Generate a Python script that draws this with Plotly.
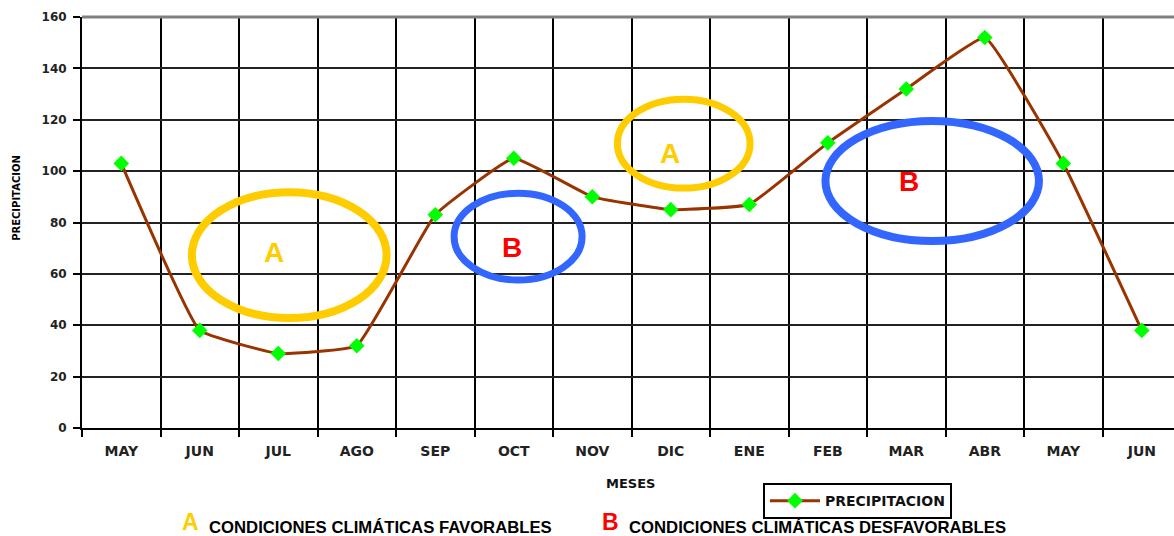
import plotly.graph_objects as go

months = ["MAY", "JUN", "JUL", "AGO", "SEP", "OCT", "NOV", "DIC",
          "ENE", "FEB", "MAR", "ABR", "MAY", "JUN"]
precip = [103, 38, 29, 32, 83, 105, 90, 85, 87, 111, 132, 152, 103, 38]
y_ticks = [0, 20, 40, 60, 80, 100, 120, 140, 160]

x_idx = list(range(len(months)))

# ellipses: (x0, x1, y0, y1, colour, width)
ellipses = [
    (0.90, 3.38, 42.8, 91.8, "#FFCC00", 8),
    (4.24, 5.87, 57.6, 91.4, "#3366FF", 7),
    (6.32, 8.01, 93.4, 128.0, "#FFCC00", 7),
    (8.97, 11.69, 72.8, 119.5, "#3366FF", 8),
]
# letters inside ellipses: (x, y, text, colour)
letters = [
    (1.95, 68.5, "A", "#FFCC00"),
    (4.98, 70.4, "B", "#FF0000"),
    (6.99, 107.0, "A", "#FFCC00"),
    (10.03, 96.1, "B", "#FF0000"),
]

FONT = "DejaVu Sans"

fig = go.Figure()
fig.add_trace(go.Scatter(
    x=x_idx, y=precip, name="<b>PRECIPITACION</b>",
    mode="lines+markers",
    line=dict(color="#993300", width=3, shape="spline", smoothing=0.3),
    marker=dict(symbol="diamond", size=12, color="#00FF00",
                line=dict(width=0)),
))

shapes = []
for x0, x1, y0, y1, c, w in ellipses:
    shapes.append(dict(type="circle", xref="x", yref="y", x0=x0, x1=x1,
                       y0=y0, y1=y1, line=dict(color=c, width=w)))
# grey top border line
shapes.append(dict(type="line", xref="paper", yref="paper", x0=0, x1=1,
                   y0=1, y1=1, line=dict(color="#808080", width=3),
                   layer="above"))
annotations = []
for x, y, t, c in letters:
    annotations.append(dict(x=x, y=y, xref="x", yref="y", text="<b>%s</b>" % t,
                            showarrow=False,
                            font=dict(family="Liberation Sans", size=28, color=c)))

annotations.append(dict(x=-0.0595, y=0.56, xref="paper", yref="paper",
                        xanchor="center", yanchor="middle",
                        text="<b>PRECIPITACION</b>", textangle=-90,
                        showarrow=False,
                        font=dict(family=FONT, size=10, color="#000")))
annotations.append(dict(x=0.5027, y=-0.136, xref="paper", yref="paper",
                        xanchor="center", yanchor="middle",
                        text="<b>MESES</b>", showarrow=False,
                        font=dict(family=FONT, size=13, color="#111")))
# bottom key
key_items = [
    (0.0897, "A", "#FFCC00", 0.1145, "CONDICIONES CLIMÁTICAS FAVORABLES"),
    (0.4744, "B", "#FF0000", 0.4991, "CONDICIONES CLIMÁTICAS DESFAVORABLES"),
]
for lx, letter, col, tx, txt in key_items:
    annotations.append(dict(x=lx, y=-0.228, xref="paper", yref="paper",
                            xanchor="left", yanchor="middle",
                            text="<b>%s</b>" % letter, showarrow=False,
                            font=dict(family="Liberation Sans", size=23, color=col)))
    annotations.append(dict(x=tx, y=-0.242, xref="paper", yref="paper",
                            xanchor="left", yanchor="middle",
                            text="<b>%s</b>" % txt, showarrow=False,
                            font=dict(family="Liberation Sans", size=16.7, color="#000")))

fig.update_layout(
    width=1174, height=536,
    margin=dict(l=82, r=0, t=17, b=108),
    paper_bgcolor="white", plot_bgcolor="white",
    shapes=shapes, annotations=annotations,
    showlegend=True,
    legend=dict(x=0.6236, y=-0.134, xanchor="left", yanchor="top",
                bordercolor="black", borderwidth=2, bgcolor="white",
                font=dict(family=FONT, size=14, color="#111"),
                itemwidth=50),
    xaxis=dict(
        range=[-0.5, 13.41],
        tickmode="array", tickvals=x_idx, ticktext=["<b>%s</b>" % m for m in months],
        ticks="", showgrid=False, zeroline=False,
        tickfont=dict(family=FONT, size=14, color="#222"),
        ticklabelstandoff=9,
        showline=True, linecolor="black", linewidth=2,
        minor=dict(tick0=-0.5, dtick=1, showgrid=True, gridcolor="black",
                   gridwidth=2, ticks="outside", ticklen=7, tickcolor="black",
                   tickwidth=2),
    ),
    yaxis=dict(
        range=[0, 160], tickmode="array", tickvals=y_ticks,
        ticktext=["<b>%d</b>" % v for v in y_ticks],
        showgrid=True, gridcolor="#222", gridwidth=2, zeroline=False,
        ticks="outside", ticklen=7, tickcolor="black", tickwidth=2,
        ticklabelstandoff=4,
        showline=True, linecolor="black", linewidth=2,
        tickfont=dict(family=FONT, size=12, color="#222"),
    ),
)

fig.write_html("out.html", config={"displayModeBar": False},
               post_script="document.body.style.margin='0';document.body.style.overflow='hidden';")
